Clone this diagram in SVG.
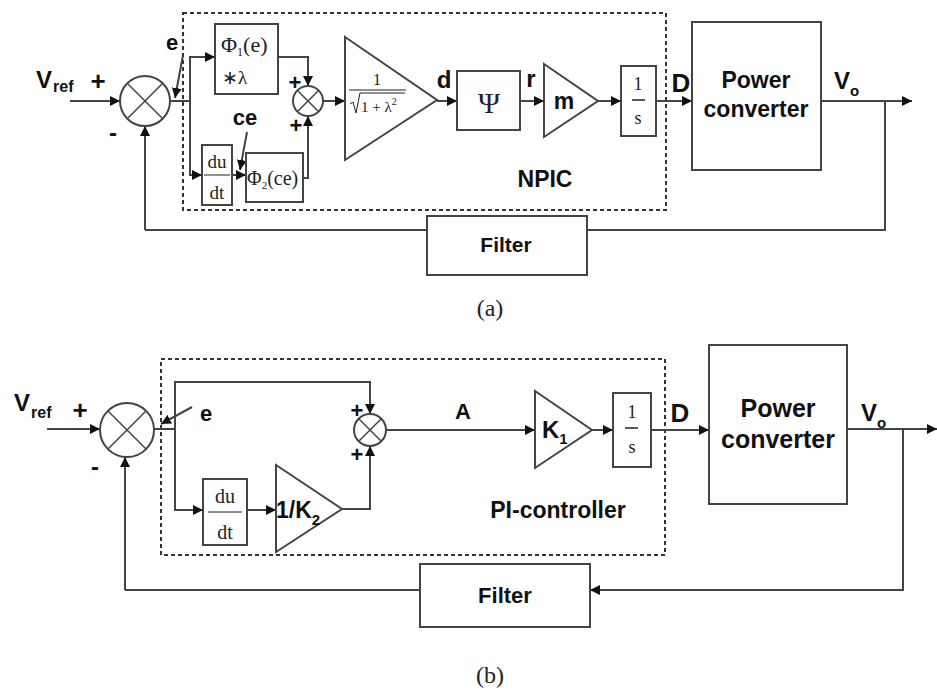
<svg xmlns="http://www.w3.org/2000/svg" width="937" height="693" viewBox="0 0 937 693">
<defs>
<marker id="ah" viewBox="0 0 10 10" refX="10" refY="5" markerWidth="10" markerHeight="10" markerUnits="userSpaceOnUse" orient="auto">
<path d="M0,0 L10,5 L0,10 z" fill="#111"/>
</marker>
<style>
.ln{fill:none;stroke:#444;stroke-width:2}
.ar{fill:none;stroke:#444;stroke-width:2;marker-end:url(#ah)}
.bx{fill:#fff;stroke:#444;stroke-width:2}
.ds{fill:none;stroke:#333;stroke-width:2;stroke-dasharray:4,3}
.sb{font-family:"Liberation Sans",Arial,sans-serif;font-weight:bold;fill:#111}
.sr{font-family:"Liberation Serif","Times New Roman",serif;fill:#222}
.sg{fill:none;stroke:#444;stroke-width:1.5}
</style>
</defs>
<rect width="937" height="693" fill="#fff"/>

<!-- ============ (a) ============ -->
<g id="a-controller-box"><rect class="ds" x="183" y="13" width="483" height="197"/>
<text class="sb" x="545" y="187" font-size="23" text-anchor="middle">NPIC</text></g>

<g id="a-connectors">
<path class="ar" d="M70,101 H120"/>
<path class="ar" d="M145,230 V126"/>
<path class="ln" d="M170,101 H190"/>
<path class="ar" d="M190,101 V57 H215"/>
<path class="ar" d="M190,101 V175 H202"/>
<path class="ar" d="M183,55 L175,98"/>
<path class="ar" d="M232,175 H246"/>
<path class="ar" d="M247,132 L240,170"/>
<path class="ar" d="M278,57 H308 V86"/>
<path class="ar" d="M303,178 H308 V116"/>
<path class="ar" d="M323,101 H345"/>
<path class="ar" d="M437,101 H457"/>
<path class="ar" d="M520,101 H544"/>
<path class="ar" d="M598,101 H621"/>
<path class="ar" d="M656,101 H692"/>
<path class="ar" d="M821,101 H912"/>
<path class="ln" d="M885,101 V230 H587"/>
<path class="ln" d="M427,230 H145"/>
</g>

<g id="a-labels">
<text class="sb" x="36" y="88" font-size="24">V</text>
<text class="sb" x="53" y="92" font-size="16">ref</text>
<text class="sb" x="98" y="90" font-size="26" text-anchor="middle">+</text>
<text class="sb" x="113" y="141" font-size="24" text-anchor="middle">-</text>
<text class="sb" x="172" y="50" font-size="22" text-anchor="middle">e</text>
<text class="sb" x="245" y="125" font-size="22" text-anchor="middle">ce</text>
<text class="sb" x="295" y="90" font-size="22" text-anchor="middle">+</text>
<text class="sb" x="296" y="133" font-size="22" text-anchor="middle">+</text>
<text class="sb" x="444" y="88" font-size="24" text-anchor="middle">d</text>
<text class="sb" x="531" y="87" font-size="24" text-anchor="middle">r</text>
<text class="sb" x="681" y="92" font-size="26" text-anchor="middle">D</text>
<text class="sb" x="834" y="89" font-size="24">V</text>
<text class="sb" x="850" y="96" font-size="15">o</text>
</g>

<g id="a-sum1"><circle class="bx" cx="145" cy="101" r="25"/>
<path class="sg" d="M128,84 L162,118 M162,84 L128,118"/></g>

<g id="a-phi1"><rect class="bx" x="215" y="24" width="63" height="70"/>
<text class="sr" x="221" y="52" font-size="22">Φ<tspan font-size="12" dy="4">1</tspan><tspan dy="-4">(e)</tspan></text>
<text class="sr" x="222" y="84" font-size="19">∗λ</text></g>

<g id="a-dudt"><rect class="bx" x="202" y="145" width="30" height="60"/>
<text class="sr" x="217" y="168" font-size="19" text-anchor="middle">du</text>
<line x1="204" y1="175" x2="230" y2="175" stroke="#222" stroke-width="1"/>
<text class="sr" x="217" y="199" font-size="19" text-anchor="middle">dt</text></g>

<g id="a-phi2"><rect class="bx" x="246" y="153" width="57" height="49"/>
<text class="sr" x="247" y="185" font-size="20">Φ<tspan font-size="11" dy="4">2</tspan><tspan dy="-4">(ce)</tspan></text></g>

<g id="a-sum2"><circle class="bx" cx="308" cy="101" r="15"/>
<path class="sg" d="M297,90 L319,112 M319,90 L297,112"/></g>

<g id="a-gain"><path class="bx" d="M345,37 L437,100 L345,160 z"/>
<text class="sr" x="377" y="85" font-size="16" text-anchor="middle">1</text>
<line x1="349" y1="90" x2="406" y2="90" stroke="#222" stroke-width="1"/>
<path d="M350,104 L353,102 L356,113 L360,93 H405" fill="none" stroke="#222" stroke-width="1"/>
<text class="sr" x="361" y="112" font-size="15">1 + λ<tspan font-size="10" dy="-7">2</tspan></text></g>

<g id="a-psi"><rect class="bx" x="457" y="71" width="63" height="59"/>
<text class="sr" x="489" y="113" font-size="30" text-anchor="middle">Ψ</text></g>

<g id="a-m"><path class="bx" d="M544,64 L598,101 L544,137 z"/>
<text class="sb" x="564" y="109" font-size="23" text-anchor="middle">m</text></g>

<g id="a-int"><rect class="bx" x="621" y="66" width="35" height="70"/>
<text class="sr" x="638" y="90" font-size="18" text-anchor="middle">1</text>
<line x1="632" y1="100" x2="645" y2="100" stroke="#222" stroke-width="1.5"/>
<text class="sr" x="638" y="124" font-size="18" text-anchor="middle">s</text></g>

<g id="a-power"><rect class="bx" x="692" y="22" width="129" height="148"/>
<text class="sb" x="756" y="88" font-size="23" text-anchor="middle">Power</text>
<text class="sb" x="756" y="117" font-size="23" text-anchor="middle">converter</text></g>

<g id="a-filter"><rect class="bx" x="427" y="216" width="160" height="59"/>
<text class="sb" x="506" y="252" font-size="21" text-anchor="middle">Filter</text></g>

<text class="sr" x="490" y="316" font-size="24" text-anchor="middle">(a)</text>

<!-- ============ (b) ============ -->
<g id="b-controller-box"><rect class="ds" x="161" y="359" width="504" height="196"/>
<text class="sb" x="558" y="518" font-size="23" text-anchor="middle">PI-controller</text></g>

<g id="b-connectors">
<path class="ar" d="M47,429 H100"/>
<path class="ar" d="M125,590 V457"/>
<path class="ln" d="M154,429 H175"/>
<path class="ar" d="M175,429 V382 H370 V414"/>
<path class="ar" d="M175,429 V510 H203"/>
<path class="ar" d="M192,407 L161,424"/>
<path class="ar" d="M247,510 H276"/>
<path class="ar" d="M342,509 H370 V446"/>
<path class="ar" d="M386,430 H535"/>
<path class="ar" d="M592,430 H613"/>
<path class="ar" d="M651,430 H709"/>
<path class="ar" d="M847,429 H937"/>
<path class="ar" d="M903,429 V590 H590"/>
<path class="ln" d="M420,590 H125"/>
</g>

<g id="b-labels">
<text class="sb" x="14" y="411" font-size="24">V</text>
<text class="sb" x="31" y="418" font-size="16">ref</text>
<text class="sb" x="80" y="419" font-size="26" text-anchor="middle">+</text>
<text class="sb" x="95" y="475" font-size="24" text-anchor="middle">-</text>
<text class="sb" x="206" y="421" font-size="22" text-anchor="middle">e</text>
<text class="sb" x="357" y="418" font-size="22" text-anchor="middle">+</text>
<text class="sb" x="357" y="462" font-size="22" text-anchor="middle">+</text>
<text class="sb" x="463" y="419" font-size="22" text-anchor="middle">A</text>
<text class="sb" x="680" y="422" font-size="26" text-anchor="middle">D</text>
<text class="sb" x="861" y="421" font-size="24">V</text>
<text class="sb" x="877" y="428" font-size="15">o</text>
</g>

<g id="b-sum1"><circle class="bx" cx="127" cy="430" r="27"/>
<path class="sg" d="M108,411 L146,449 M146,411 L108,449"/></g>

<g id="b-dudt"><rect class="bx" x="203" y="479" width="44" height="66"/>
<text class="sr" x="225" y="503" font-size="20" text-anchor="middle">du</text>
<line x1="208" y1="512" x2="242" y2="512" stroke="#222" stroke-width="1"/>
<text class="sr" x="225" y="539" font-size="20" text-anchor="middle">dt</text></g>

<g id="b-k2"><path class="bx" d="M276,465 L342,509 L276,552 z"/>
<text class="sb" x="276" y="518" font-size="23">1/K<tspan font-size="15" dy="7">2</tspan></text></g>

<g id="b-sum2"><circle class="bx" cx="370" cy="430" r="16"/>
<path class="sg" d="M359,419 L381,441 M381,419 L359,441"/></g>

<g id="b-k1"><path class="bx" d="M535,391 L592,430 L535,468 z"/>
<text class="sb" x="542" y="438" font-size="24">K<tspan font-size="15" dy="6">1</tspan></text></g>

<g id="b-int"><rect class="bx" x="613" y="393" width="38" height="74"/>
<text class="sr" x="632" y="418" font-size="18" text-anchor="middle">1</text>
<line x1="625" y1="428" x2="638" y2="428" stroke="#222" stroke-width="1.5"/>
<text class="sr" x="632" y="453" font-size="18" text-anchor="middle">s</text></g>

<g id="b-power"><rect class="bx" x="709" y="345" width="138" height="159"/>
<text class="sb" x="778" y="417" font-size="25" text-anchor="middle">Power</text>
<text class="sb" x="778" y="448" font-size="25" text-anchor="middle">converter</text></g>

<g id="b-filter"><rect class="bx" x="420" y="564" width="170" height="63"/>
<text class="sb" x="505" y="603" font-size="22" text-anchor="middle">Filter</text></g>

<text class="sr" x="490" y="683" font-size="24" text-anchor="middle">(b)</text>
</svg>
